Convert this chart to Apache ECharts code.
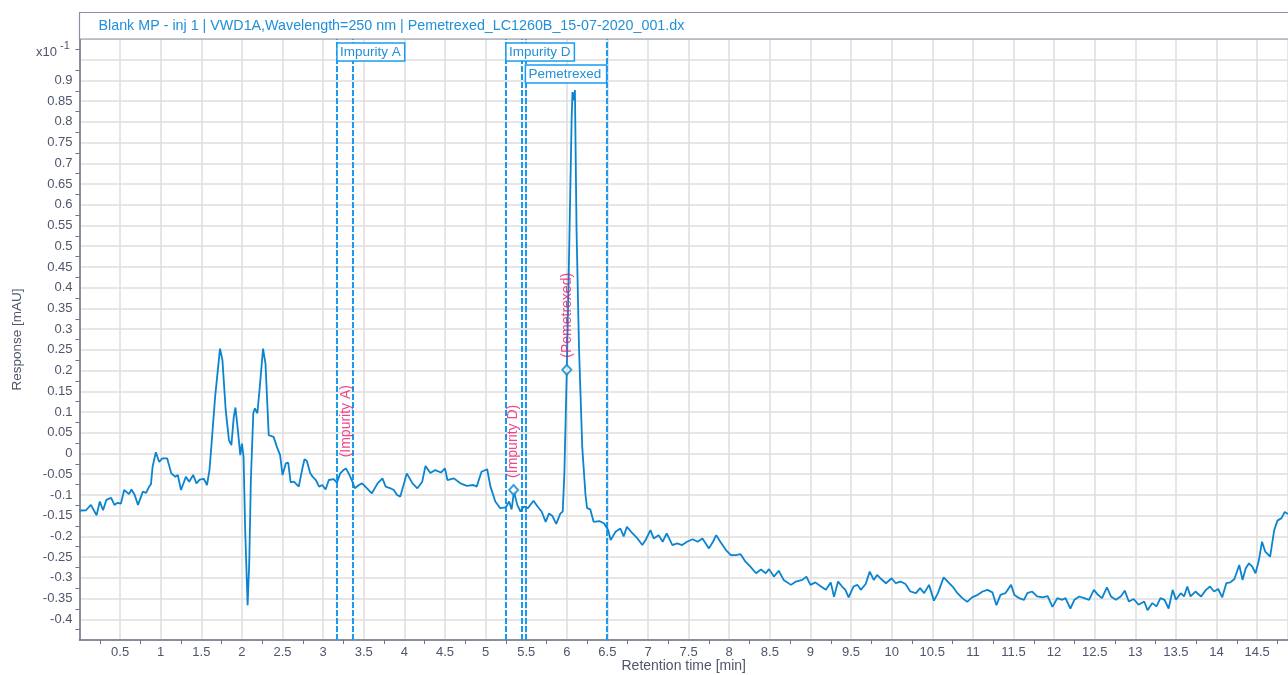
<!DOCTYPE html>
<html><head><meta charset="utf-8">
<script src="https://cdn.jsdelivr.net/npm/echarts@6/dist/echarts.min.js"></script>
<style>html,body{margin:0;padding:0;background:#fff}#main{width:1288px;height:675px}</style>
</head><body><div id="main"></div>
<script>
// ---------- data ----------
const titleText = 'Blank MP - inj 1 | VWD1A,Wavelength=250 nm | Pemetrexed_LC1260B_15-07-2020_001.dx';
const xAxisName = 'Retention time [min]';
const yAxisName = 'Response [mAU]';
const yScaleLabel = 'x10';
const yScaleExp = '-1';

const timeMin = [0.00,0.08,0.14,0.21,0.25,0.29,0.33,0.39,0.43,0.47,0.51,0.55,0.61,0.64,0.68,0.72,0.78,0.82,0.86,0.88,
0.90,0.94,0.98,1.02,1.08,1.13,1.18,1.21,1.25,1.27,1.31,1.35,1.40,1.44,1.48,1.53,1.57,1.60,1.62,1.67,
1.73,1.76,1.80,1.84,1.87,1.90,1.92,1.95,1.98,2.00,2.02,2.04,2.07,2.09,2.11,2.14,2.16,2.19,2.22,2.26,
2.29,2.33,2.39,2.43,2.47,2.50,2.54,2.57,2.60,2.64,2.70,2.74,2.77,2.80,2.84,2.87,2.91,2.95,2.99,3.03,
3.07,3.13,3.17,3.21,3.25,3.28,3.32,3.36,3.39,3.44,3.48,3.54,3.60,3.67,3.73,3.77,3.83,3.87,3.91,3.95,
4.03,4.10,4.16,4.22,4.26,4.32,4.38,4.45,4.50,4.53,4.61,4.69,4.77,4.85,4.89,4.95,5.02,5.06,5.12,5.18,
5.25,5.29,5.32,5.35,5.39,5.43,5.47,5.52,5.59,5.64,5.69,5.74,5.78,5.82,5.87,5.92,5.95,5.97,6.00,6.03,
6.06,6.07,6.085,6.10,6.12,6.15,6.19,6.23,6.25,6.29,6.33,6.40,6.46,6.51,6.54,6.60,6.66,6.70,6.74,6.81,
6.87,6.93,6.97,7.03,7.07,7.13,7.18,7.23,7.30,7.36,7.42,7.48,7.55,7.61,7.67,7.75,7.80,7.84,7.89,7.96,
8.02,8.08,8.14,8.20,8.26,8.33,8.39,8.45,8.49,8.55,8.61,8.67,8.76,8.82,8.90,8.95,9.00,9.06,9.13,9.19,
9.25,9.29,9.34,9.39,9.43,9.47,9.53,9.58,9.62,9.68,9.73,9.78,9.82,9.86,9.93,10.00,10.05,10.11,10.17,10.23,
10.30,10.35,10.40,10.46,10.52,10.57,10.64,10.69,10.75,10.81,10.87,10.93,10.99,11.06,11.12,11.18,11.24,11.29,11.34,11.40,
11.47,11.51,11.57,11.63,11.67,11.73,11.79,11.86,11.92,11.98,12.04,12.10,12.14,12.20,12.25,12.31,12.37,12.43,12.49,12.54,
12.59,12.65,12.70,12.76,12.82,12.87,12.92,12.98,13.04,13.11,13.15,13.21,13.26,13.31,13.36,13.41,13.46,13.50,13.56,13.60,
13.64,13.68,13.74,13.81,13.87,13.92,13.97,14.02,14.07,14.12,14.17,14.22,14.28,14.32,14.36,14.40,14.44,14.48,14.52,14.56,
14.60,14.66,14.71,14.75,14.80,14.84,14.88];

const response = [-0.138,-0.137,-0.124,-0.149,-0.116,-0.137,-0.112,-0.107,-0.124,-0.119,-0.121,-0.088,-0.098,-0.087,-0.100,-0.124,-0.092,-0.095,-0.079,-0.074,
-0.032,0.003,-0.020,-0.012,-0.012,-0.048,-0.056,-0.052,-0.088,-0.092,-0.056,-0.068,-0.052,-0.072,-0.063,-0.061,-0.076,-0.040,0.008,0.137,
0.253,0.225,0.105,0.032,0.020,0.089,0.111,0.056,-0.004,0.024,-0.008,-0.185,-0.366,-0.264,-0.064,0.097,0.109,0.097,0.161,0.253,
0.217,0.044,0.040,0.016,-0.004,-0.052,-0.024,-0.022,-0.070,-0.068,-0.080,-0.040,-0.014,-0.018,-0.047,-0.056,-0.064,-0.080,-0.076,-0.087,
-0.064,-0.062,-0.070,-0.048,-0.040,-0.036,-0.050,-0.068,-0.084,-0.076,-0.072,-0.084,-0.096,-0.072,-0.060,-0.080,-0.084,-0.088,-0.100,-0.104,
-0.048,-0.072,-0.084,-0.068,-0.030,-0.047,-0.040,-0.046,-0.036,-0.064,-0.060,-0.072,-0.078,-0.076,-0.080,-0.044,-0.038,-0.080,-0.116,-0.132,
-0.130,-0.116,-0.135,-0.092,-0.124,-0.140,-0.128,-0.132,-0.114,-0.128,-0.140,-0.165,-0.145,-0.150,-0.170,-0.145,-0.140,-0.048,0.201,0.499,
0.812,0.872,0.852,0.877,0.539,0.257,0.016,-0.100,-0.132,-0.135,-0.165,-0.163,-0.169,-0.185,-0.209,-0.189,-0.181,-0.200,-0.177,-0.193,
-0.205,-0.221,-0.209,-0.185,-0.205,-0.197,-0.213,-0.193,-0.221,-0.217,-0.221,-0.213,-0.207,-0.213,-0.205,-0.229,-0.213,-0.197,-0.213,-0.233,
-0.245,-0.245,-0.243,-0.261,-0.273,-0.289,-0.280,-0.289,-0.279,-0.297,-0.283,-0.305,-0.317,-0.309,-0.305,-0.297,-0.317,-0.311,-0.321,-0.329,
-0.311,-0.346,-0.309,-0.321,-0.329,-0.347,-0.321,-0.317,-0.329,-0.315,-0.285,-0.305,-0.293,-0.301,-0.313,-0.301,-0.313,-0.309,-0.315,-0.333,
-0.337,-0.325,-0.337,-0.317,-0.355,-0.337,-0.299,-0.309,-0.321,-0.337,-0.349,-0.358,-0.347,-0.341,-0.333,-0.329,-0.335,-0.366,-0.341,-0.337,
-0.317,-0.341,-0.349,-0.353,-0.337,-0.333,-0.345,-0.347,-0.344,-0.370,-0.349,-0.353,-0.349,-0.374,-0.353,-0.345,-0.349,-0.353,-0.329,-0.341,
-0.349,-0.323,-0.345,-0.353,-0.345,-0.331,-0.357,-0.351,-0.365,-0.357,-0.378,-0.361,-0.369,-0.349,-0.353,-0.374,-0.329,-0.353,-0.337,-0.345,
-0.321,-0.345,-0.333,-0.345,-0.329,-0.321,-0.333,-0.327,-0.347,-0.313,-0.311,-0.303,-0.269,-0.305,-0.277,-0.265,-0.273,-0.289,-0.259,-0.213,
-0.237,-0.249,-0.185,-0.162,-0.156,-0.141,-0.146];

const peakNames = ['Impurity A', 'Impurity D', 'Pemetrexed'];
const peakStart = [3.17, 5.25, 5.49];
const peakEnd = [3.37, 5.44, 6.49];
const peakMarkTime = [3.28, 5.345, 6.00];
const peakMarkResp = [-0.036, -0.088, 0.202];
const peakHasMarker = [false, true, true];

const xMin = 0, xMax = 14.88, xStep = 0.5;
const yMin = -0.45, yMax = 1.0, yStep = 0.05;
const yLabelLow = -0.4, yLabelHigh = 0.9;

// ---------- styles ----------
const FONT = '"Liberation Sans", Arial, sans-serif';
const AXIS_COLOR = '#6c7186';
const LABEL_COLOR = '#4f566b';
const GRID_COLOR = '#dedede';
const TRACE_COLOR = '#0b84d0';
const MARK_COLOR = '#179cf2';
const PEAK_TEXT = '#e6196c';
const TITLE_COLOR = '#2190d8';

const fmt = v => String(+v.toFixed(3));

const chart = echarts.init(document.getElementById('main'), null, {renderer: 'canvas'});

const lineData = timeMin.map((t, i) => [t, response[i]]);
const markLines = [];
peakNames.forEach((n, i) => { markLines.push({xAxis: peakStart[i]}); markLines.push({xAxis: peakEnd[i]}); });
const peakPts = peakNames.map((n, i) => peakHasMarker[i]
  ? {value: [peakMarkTime[i], peakMarkResp[i]], name: n}
  : {value: [peakMarkTime[i], peakMarkResp[i]], name: n, symbol: 'circle', symbolSize: 0.1,
     itemStyle: {color: 'rgba(0,0,0,0)', borderWidth: 0}, label: {distance: 11}});

chart.setOption({
  animation: false,
  backgroundColor: '#fff',
  textStyle: {fontFamily: FONT},
  grid: {left: 79.5, right: 0, top: 39, bottom: 35, containLabel: false, outerBoundsMode: 'none'},
  xAxis: {
    type: 'value', min: xMin, max: xMax, interval: xStep,
    name: xAxisName, nameLocation: 'middle', nameGap: 19, nameMoveOverlap: false,
    nameTextStyle: {color: LABEL_COLOR, fontSize: 14, fontFamily: FONT},
    axisLine: {show: true, onZero: false, lineStyle: {color: AXIS_COLOR, width: 1.5}},
    axisTick: {show: false},
    minorTick: {show: true, splitNumber: 2, length: 4, lineStyle: {color: AXIS_COLOR, width: 1}},
    axisLabel: {color: LABEL_COLOR, fontSize: 13, margin: 6, fontFamily: FONT,
      showMinLabel: true, showMaxLabel: true,
      formatter: v => (v <= xMin + 1e-6 || v > xMax - 0.2) ? '' : fmt(v)},
    splitLine: {show: true, lineStyle: {color: GRID_COLOR, width: 1.5}}
  },
  yAxis: {
    type: 'value', min: yMin, max: yMax, interval: yStep,
    name: yAxisName, nameLocation: 'middle', nameGap: 55, nameMoveOverlap: false,
    nameTextStyle: {color: LABEL_COLOR, fontSize: 13.5, fontFamily: FONT},
    axisLine: {show: true, onZero: false, lineStyle: {color: AXIS_COLOR, width: 1.5}},
    axisTick: {show: false},
    minorTick: {show: true, splitNumber: 2, length: 4, lineStyle: {color: AXIS_COLOR, width: 1}},
    axisLabel: {color: LABEL_COLOR, fontSize: 13, margin: 7, fontFamily: FONT,
      formatter: v => (v < yLabelLow - 1e-6 || v > yLabelHigh + 1e-6) ? '' : fmt(v)},
    splitLine: {show: true, lineStyle: {color: GRID_COLOR, width: 1.5}}
  },
  series: [
    {
      type: 'line', data: lineData, showSymbol: false, symbol: 'none', z: 3,
      lineStyle: {color: TRACE_COLOR, width: 1.8}, silent: true,
      markLine: {
        silent: true, symbol: ['none', 'none'], label: {show: false}, z: 2,
        lineStyle: {color: MARK_COLOR, width: 2, type: [6, 2]},
        data: markLines
      }
    },
    {
      type: 'scatter', data: peakPts, z: 5, silent: true,
      symbol: 'emptyDiamond', symbolSize: [9, 10],
      itemStyle: {color: TRACE_COLOR, borderColor: TRACE_COLOR, borderWidth: 1.2},
      label: {
        show: true, position: 'top', distance: 6, rotate: 90,
        align: 'left', verticalAlign: 'middle',
        color: PEAK_TEXT, fontSize: 14, fontFamily: FONT,
        formatter: p => '(' + p.name + ')'
      }
    }
  ]
});

// ---------- overlay graphics placed through the axis scales ----------
const ctx = document.createElement('canvas').getContext('2d');
ctx.font = '13.5px ' + FONT;
const gridRect = chart.getModel().getComponent('grid', 0).coordinateSystem.getRect();
const graphics = [];
// title box
graphics.push({type: 'rect', z: 10, silent: true,
  shape: {x: gridRect.x, y: 12.5, width: 1288 - gridRect.x + 5, height: gridRect.y - 12.5},
  style: {fill: '#fff', stroke: '#8c90a3', lineWidth: 1.2}});
graphics.push({type: 'text', z: 11, silent: true, x: gridRect.x + 19, y: (12.5 + gridRect.y) / 2,
  style: {text: titleText, fill: TITLE_COLOR, font: '14.3px ' + FONT, verticalAlign: 'middle', align: 'left'}});
// scale factor
graphics.push({type: 'text', z: 11, silent: true, x: 57, y: 52,
  style: {text: yScaleLabel, fill: LABEL_COLOR, font: '13px ' + FONT, verticalAlign: 'middle', align: 'right'}});
graphics.push({type: 'text', z: 11, silent: true, x: 60, y: 46,
  style: {text: yScaleExp, fill: LABEL_COLOR, font: '11px ' + FONT, verticalAlign: 'middle', align: 'left'}});
// peak name boxes
const rowRight = [];
const boxH = 18, rowGap = 4;
peakNames.forEach((n, i) => {
  const x0 = chart.convertToPixel({gridIndex: 0}, [peakStart[i], 0])[0];
  const x1 = chart.convertToPixel({gridIndex: 0}, [peakEnd[i], 0])[0];
  const w = Math.max(ctx.measureText(n).width + 7, 0);
  let row = 0;
  while (rowRight[row] !== undefined && rowRight[row] > x0 - 1) row++;
  rowRight[row] = x0 + w;
  const y = gridRect.y + 4 + row * (boxH + rowGap);
  const bw = (row > 0 && x1 - x0 > w) ? x1 - x0 : w;
  graphics.push({type: 'rect', z: 12, silent: true,
    shape: {x: x0, y: y, width: bw, height: boxH},
    style: {fill: '#fff', stroke: MARK_COLOR, lineWidth: 1.5}});
  graphics.push({type: 'text', z: 13, silent: true, x: x0 + 3, y: y + boxH / 2 + 0.5,
    style: {text: n, fill: TITLE_COLOR, font: '13.5px ' + FONT, verticalAlign: 'middle', align: 'left'}});
});
chart.setOption({graphic: graphics});
</script>
</body></html>
